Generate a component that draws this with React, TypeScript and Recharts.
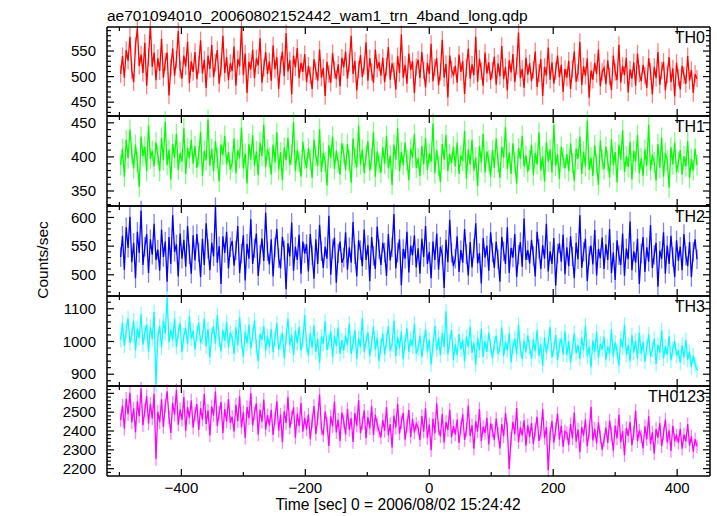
import React from 'react';
import { LineChart, Line, XAxis, YAxis, ErrorBar } from 'recharts';

// ---- data (3-s bins starting at t = -498 s) ----
const BIN_START = -498;
const BIN_SIZE = 3;

const TH0 = [
  505, 540, 498, 552, 531, 578, 512, 489, 560, 595, 521, 543, 507, 566, 482, 538, 601, 519, 547, 493,
  536, 511, 574, 498, 529, 547, 463, 518, 555, 502, 533, 589, 514, 496, 541, 520, 568, 487, 530, 509,
  548, 495, 523, 571, 506, 533, 478, 541, 515, 562, 499, 527, 552, 486, 519, 580, 507, 538, 493, 526,
  511, 559, 482, 534, 520, 597, 503, 545, 468, 529, 514, 553, 497, 536, 522, 575, 488, 517, 548, 505,
  530, 492, 561, 514, 538, 476, 523, 549, 501, 585, 510, 532, 465, 541, 518, 556, 497, 527, 509, 544,
  489, 521, 503, 476, 534, 511, 492, 553, 498, 517, 462, 529, 505, 488, 546, 513, 495, 524, 481, 537,
  518, 549, 496, 527, 580, 505, 531, 473, 514, 542, 499, 521, 567, 492, 536, 509, 488, 553, 516, 528,
  502, 537, 489, 519, 558, 494, 526, 511, 475, 540, 507, 583, 498, 523, 486, 545, 513, 530, 468, 519,
  533, 497, 548, 512, 479, 527, 505, 564, 491, 518, 536, 483, 509, 572, 498, 525, 459, 541, 514, 502,
  521, 488, 543, 509, 530, 466, 517, 555, 496, 524, 503, 578, 490, 535, 511, 482, 547, 506, 528, 493,
  512, 539, 484, 526, 501, 560, 495, 519, 473, 532, 508, 544, 489, 521, 586, 497, 515, 478, 537, 504,
  526, 491, 513, 549, 480, 507, 534, 462, 519, 502, 557, 494, 528, 486, 511, 541, 499, 523, 470, 515,
  498, 531, 476, 515, 549, 490, 507, 568, 483, 520, 502, 536, 459, 512, 494, 527, 505, 553, 481, 509,
  517, 485, 532, 500, 474, 541, 509, 493, 562, 488, 521, 503, 537, 469, 514, 496, 528, 482, 545, 506,
  491, 523, 502, 478, 536, 510, 465, 519, 497, 548, 484, 512, 529, 473, 504, 538, 489, 516, 461, 527,
  498, 475, 521, 503, 486, 540, 492, 513, 468, 505, 496,
];

const TH1 = [
  388, 412, 371, 425, 398, 440, 405, 383, 418, 392, 356, 430, 401, 415, 379, 446, 397, 409, 386, 421,
  403, 379, 428, 395, 452, 388, 410, 367, 419, 399, 434, 381, 406, 393, 442, 375, 413, 398, 425, 390,
  416, 384, 401, 437, 372, 409, 395, 455, 387, 412, 379, 423, 398, 364, 418, 403, 431, 389, 407, 381,
  392, 427, 376, 410, 398, 443, 383, 405, 361, 419, 396, 432, 387, 408, 373, 421, 401, 447, 385, 411,
  399, 374, 418, 392, 436, 381, 407, 366, 414, 395, 428, 388, 403, 451, 379, 410, 393, 371, 422, 397,
  384, 413, 396, 369, 425, 401, 387, 441, 378, 406, 393, 358, 417, 398, 430, 382, 409, 392, 374, 420,
  405, 381, 419, 394, 362, 427, 398, 385, 446, 389, 411, 376, 402, 423, 380, 397, 436, 371, 408, 391,
  377, 414, 390, 431, 383, 402, 359, 418, 396, 442, 379, 407, 388, 421, 395, 366, 412, 399, 433, 384,
  398, 372, 416, 389, 428, 381, 405, 393, 449, 376, 410, 387, 363, 419, 396, 432, 379, 404, 391, 415,
  386, 421, 375, 402, 394, 438, 368, 411, 389, 425, 380, 399, 357, 416, 392, 434, 377, 408, 395, 371,
  410, 384, 427, 393, 369, 415, 399, 444, 382, 406, 375, 420, 391, 361, 413, 397, 431, 386, 402, 378,
  395, 418, 373, 406, 389, 436, 380, 401, 364, 422, 393, 411, 377, 447, 387, 404, 368, 415, 398, 383,
  404, 379, 420, 391, 365, 412, 397, 430, 375, 408, 386, 453, 381, 399, 372, 417, 390, 359, 424, 395,
  382, 415, 394, 370, 426, 388, 407, 363, 418, 396, 439, 378, 401, 385, 422, 367, 409, 393, 432, 376,
  398, 372, 411, 387, 447, 380, 403, 392, 365, 419, 384, 428, 371, 406, 395, 355, 414, 389, 421, 378,
  392, 410, 374, 401, 386, 423, 369, 397, 380, 412, 388,
];

const TH2 = [
  531, 568, 509, 583, 547, 601, 522, 556, 494, 575, 538, 612, 517, 549, 571, 503, 562, 535, 589, 526,
  544, 507, 579, 531, 558, 488, 566, 519, 604, 540, 553, 497, 572, 528, 561, 514, 585, 536, 502, 569,
  525, 571, 539, 496, 563, 517, 590, 545, 508, 556, 532, 618, 521, 550, 484, 567, 538, 575, 511, 548,
  559, 516, 543, 585, 503, 537, 569, 490, 554, 528, 597, 519, 546, 572, 498, 535, 563, 524, 608, 541,
  518, 562, 497, 548, 580, 529, 511, 566, 543, 475, 555, 532, 591, 507, 549, 526, 570, 502, 558, 537,
  553, 506, 571, 534, 493, 562, 519, 587, 541, 512, 549, 528, 603, 500, 545, 565, 486, 537, 558, 521,
  530, 574, 509, 548, 521, 592, 536, 497, 560, 543, 515, 579, 526, 552, 489, 566, 533, 510, 584, 545,
  517, 556, 539, 498, 571, 525, 548, 606, 511, 539, 562, 482, 545, 528, 575, 504, 551, 534, 569, 513,
  546, 502, 563, 531, 585, 519, 540, 494, 558, 526, 572, 509, 549, 535, 477, 561, 522, 596, 538, 515,
  528, 567, 505, 543, 521, 580, 536, 499, 557, 513, 546, 590, 520, 538, 485, 564, 530, 551, 507, 574,
  539, 512, 558, 527, 488, 566, 541, 519, 583, 503, 547, 530, 571, 496, 535, 557, 514, 598, 526, 543,
  520, 561, 533, 497, 575, 545, 510, 552, 528, 589, 506, 541, 519, 564, 481, 537, 555, 523, 570, 501,
  548, 515, 567, 532, 494, 556, 527, 604, 512, 540, 563, 489, 533, 551, 518, 578, 499, 545, 529, 565,
  510, 553, 526, 580, 503, 539, 491, 560, 534, 517, 572, 498, 546, 527, 593, 508, 541, 521, 563, 484,
  537, 566, 505, 548, 523, 587, 512, 535, 556, 479, 542, 528, 574, 502, 551, 519, 568, 531, 496, 560,
  524, 549, 508, 571, 533, 515, 557, 496, 540, 562, 527,
];

const TH3 = [
  1005, 1058, 987, 1032, 1071, 996, 1019, 1064, 972, 1040, 1011, 1083, 990, 1027, 1052, 968, 1045, 1008, 1090, 869,
  1012, 1047, 981, 1063, 1025, 1134, 998, 1036, 1004, 1071, 983, 1029, 1055, 967, 1018, 1042, 991, 1077, 1009, 1033,
  976, 1024, 1058, 995, 1013, 1069, 985, 1038, 951, 1020, 1046, 993, 1081, 1007, 970, 1035, 1002, 1060, 982, 1027,
  1011, 962, 1043, 989, 1074, 1001, 953, 1030, 994, 1052, 978, 1019, 1064, 986, 940, 1022, 1005, 1047, 971, 1016,
  983, 1038, 967, 1009, 1056, 975, 998, 1027, 949, 1012, 1069, 988, 1021, 958, 1034, 995, 1045, 972, 1003, 1080,
  990, 957, 1026, 981, 1049, 968, 1007, 935, 1015, 993, 1062, 974, 1000, 1031, 952, 1018, 985, 1043, 962, 1004,
  971, 1019, 988, 1055, 962, 996, 1034, 947, 1010, 983, 1072, 969, 1001, 1028, 955, 993, 1046, 975, 1012, 940,
  986, 1024, 960, 1003, 1047, 972, 991, 1063, 954, 1015, 979, 1030, 946, 997, 1040, 968, 1008, 985, 1054, 963,
  979, 1018, 952, 996, 1037, 969, 1005, 930, 988, 1048, 974, 1011, 958, 1026, 983, 1092, 961, 999, 1035, 944,
  991, 958, 1023, 976, 1004, 940, 1015, 982, 1046, 965, 997, 929, 1010, 973, 1039, 953, 1001, 968, 1027, 985,
  949, 992, 1017, 962, 981, 1043, 955, 998, 973, 1025, 937, 984, 1008, 961, 1051, 979, 946, 1002, 969, 1019,
  982, 947, 1006, 970, 1034, 956, 991, 925, 1013, 965, 998, 1044, 952, 977, 1020, 943, 988, 1009, 960, 1031,
  958, 1001, 936, 979, 1025, 964, 990, 947, 1012, 973, 1049, 955, 984, 921, 1003, 967, 1030, 950, 993, 976,
  1014, 944, 985, 962, 1037, 953, 997, 970, 926, 1008, 981, 1052, 959, 990, 940, 1019, 966, 1003, 948, 1027,
  962, 999, 938, 981, 1021, 954, 975, 1008, 931, 990, 966, 1034, 948, 985, 959, 1016, 942, 977, 1001, 956,
  973, 935, 989, 951, 1004, 944, 968, 922, 957, 930, 912,
];

const TH0123 = [
  2458, 2535, 2412, 2571, 2489, 2603, 2446, 2520, 2394, 2557, 2478, 2625, 2431, 2509, 2586, 2440, 2544, 2467, 2598, 2252,
  2502, 2447, 2568, 2421, 2534, 2611, 2473, 2390, 2549, 2486, 2617, 2433, 2515, 2459, 2580, 2402, 2527, 2470, 2562, 2418,
  2491, 2543, 2405, 2522, 2460, 2596, 2437, 2508, 2376, 2531, 2482, 2609, 2426, 2497, 2554, 2389, 2516, 2451, 2570, 2443,
  2475, 2398, 2539, 2452, 2584, 2419, 2501, 2363, 2527, 2468, 2601, 2430, 2493, 2547, 2381, 2512, 2449, 2566, 2407, 2484,
  2430, 2512, 2379, 2466, 2558, 2402, 2487, 2341, 2505, 2443, 2579, 2418, 2473, 2526, 2365, 2491, 2427, 2549, 2396, 2470,
  2409, 2487, 2356, 2451, 2532, 2384, 2466, 2594, 2412, 2378, 2503, 2439, 2321, 2478, 2425, 2556, 2393, 2460, 2347, 2498,
  2452, 2381, 2517, 2406, 2468, 2342, 2495, 2429, 2563, 2389, 2441, 2508, 2362, 2474, 2415, 2532, 2378, 2486, 2433, 2399,
  2366, 2458, 2401, 2527, 2377, 2436, 2312, 2482, 2419, 2545, 2386, 2447, 2495, 2354, 2428, 2511, 2369, 2463, 2392, 2438,
  2417, 2352, 2479, 2396, 2521, 2363, 2434, 2298, 2465, 2388, 2546, 2411, 2372, 2490, 2339, 2448, 2405, 2513, 2367, 2426,
  2382, 2461, 2337, 2419, 2488, 2353, 2407, 2535, 2374, 2430, 2306, 2452, 2398, 2517, 2346, 2421, 2390, 2470, 2328, 2441,
  2403, 2351, 2466, 2385, 2308, 2437, 2372, 2495, 2411, 2199, 2359, 2448, 2383, 2522, 2341, 2419, 2376, 2457, 2322, 2430,
  2368, 2442, 2331, 2405, 2476, 2347, 2391, 2515, 2362, 2420, 2192, 2384, 2453, 2339, 2409, 2493, 2354, 2427, 2316, 2398,
  2389, 2326, 2437, 2361, 2498, 2343, 2408, 2287, 2421, 2375, 2462, 2318, 2394, 2529, 2350, 2412, 2334, 2446, 2369, 2301,
  2352, 2418, 2337, 2455, 2383, 2296, 2429, 2360, 2486, 2341, 2399, 2272, 2416, 2374, 2447, 2325, 2390, 2508, 2346, 2402,
  2371, 2308, 2425, 2356, 2478, 2332, 2393, 2281, 2410, 2365, 2442, 2319, 2387, 2461, 2339, 2404, 2294, 2428, 2352, 2376,
  2338, 2412, 2306, 2381, 2345, 2437, 2323, 2372, 2290, 2356, 2318,
];

// 1-sigma errors per band (counts/sec)
const ERRORS = [17, 15, 17, 23, 36];
const SERIES = [TH0, TH1, TH2, TH3, TH0123];
const SERIES_NAMES = ['TH0', 'TH1', 'TH2', 'TH3', 'TH0123'];
const COLORS = ['#ff0000', '#00ff00', '#0000ff', '#00ffff', '#ff00ff'];

const X_DOMAIN = [-520, 453];
const X_MAJOR = [-400, -200, 0, 200, 400];
const X_MINOR = [-500, -300, -100, 100, 300];

const Y_DOMAINS = [[423, 597], [328, 460], [463, 620], [864, 1139], [2161, 2639]];
const Y_MAJOR = [
  [450, 500, 550],
  [350, 400, 450],
  [500, 550, 600],
  [900, 1000, 1100],
  [2200, 2300, 2400, 2500, 2600],
];
const Y_MINOR_STEP = [10, 10, 10, 20, 20];

const TITLE = 'ae701094010_20060802152442_wam1_trn_4band_long.qdp';
const X_LABEL = 'Time [sec] 0 = 2006/08/02 15:24:42';
const Y_LABEL = 'Counts/sec';

// ---- layout ----
const W = 717;
const H = 516;
const PLOT_LEFT = 107;
const PLOT_RIGHT = 710;
const EDGES = [27, 116, 206, 296, 386, 476];
const FONT = '"Liberation Sans", Arial, Helvetica, sans-serif';
const AXIS_COLOR = '#000';
const MAJOR_LEN = 7;
const MINOR_LEN = 4;

function minorTicks(domain: number[], step: number, majors: number[]) {
  const out: number[] = [];
  const start = Math.ceil(domain[0] / step) * step;
  for (let v = start; v <= domain[1]; v += step) {
    if (!majors.includes(v)) out.push(v);
  }
  return out;
}

function fmt(v: number) {
  return v < 0 ? '\u2212' + Math.abs(v) : String(v);
}

// side: 'left' | 'right' | 'top' | 'bottom'
function makeTick(side: string, majors: number[], showLabels: boolean) {
  return (props: any) => {
    const { x, y, payload } = props;
    const v = payload.value;
    const isMajor = majors.includes(v);
    const len = isMajor ? MAJOR_LEN : MINOR_LEN;
    let line: any;
    if (side === 'left') line = { x1: x, x2: x + len, y1: y, y2: y };
    else if (side === 'right') line = { x1: x, x2: x - len, y1: y, y2: y };
    else if (side === 'top') line = { x1: x, x2: x, y1: y, y2: y + len };
    else line = { x1: x, x2: x, y1: y, y2: y - len };
    let label = null;
    if (showLabels && isMajor) {
      if (side === 'left') {
        label = (
          <text x={x - 11} y={y} dy="0.35em" textAnchor="end" fontSize={15} fontFamily={FONT} fill="#000">
            {fmt(v)}
          </text>
        );
      } else if (side === 'bottom') {
        label = (
          <text x={x} y={y + 17} textAnchor="middle" fontSize={15} fontFamily={FONT} fill="#000">
            {fmt(v)}
          </text>
        );
      }
    }
    return (
      <g>
        <line {...line} stroke={AXIS_COLOR} strokeWidth={1.2} />
        {label}
      </g>
    );
  };
}

function Panel({ idx }: { idx: number }) {
  const top = EDGES[idx];
  const bottom = EDGES[idx + 1];
  const isLast = idx === SERIES.length - 1;
  const padTop = 12;
  const padBottom = isLast ? 40 : 12;
  const height = bottom - top + padTop + padBottom;
  const values = SERIES[idx];
  const err = ERRORS[idx];
  const data = values.map((v, i) => ({ t: BIN_START + i * BIN_SIZE, v, e: err }));
  const yDomain = Y_DOMAINS[idx];
  const yMajor = Y_MAJOR[idx];
  const yTicks = [...yMajor, ...minorTicks(yDomain, Y_MINOR_STEP[idx], yMajor)].sort((a, b) => a - b);
  const xTicks = [...X_MAJOR, ...X_MINOR].sort((a, b) => a - b);
  const color = COLORS[idx];
  const common = {
    type: 'number' as const,
    allowDataOverflow: true,
    interval: 0 as const,
    tickSize: 0,
    tickMargin: 0,
    tickLine: false,
    axisLine: { stroke: AXIS_COLOR, strokeWidth: 1.5 },
  };
  return (
    <div style={{ position: 'absolute', left: 0, top: top - padTop, width: W, height }}>
      <LineChart
        width={W}
        height={height}
        data={data}
        margin={{ top: padTop - 1, bottom: padBottom - 1, left: PLOT_LEFT - 1, right: W - PLOT_RIGHT - 1 }}
      >
        <XAxis
          xAxisId="main"
          dataKey="t"
          {...common}
          domain={X_DOMAIN}
          ticks={xTicks}
          orientation="bottom"
          height={1}
          tick={makeTick('bottom', X_MAJOR, isLast)}
        />
        <XAxis
          xAxisId="top"
          dataKey="t"
          {...common}
          domain={X_DOMAIN}
          ticks={xTicks}
          orientation="top"
          height={1}
          tick={makeTick('top', X_MAJOR, false)}
        />
        <YAxis
          yAxisId="main"
          {...common}
          domain={yDomain}
          ticks={yTicks}
          orientation="left"
          width={1}
          tick={makeTick('left', yMajor, true)}
        />
        <YAxis
          yAxisId="right"
          {...common}
          domain={yDomain}
          ticks={yTicks}
          orientation="right"
          width={1}
          tick={makeTick('right', yMajor, false)}
        />
        <Line
          xAxisId="main"
          yAxisId="main"
          dataKey="v"
          type="linear"
          stroke={color}
          strokeWidth={1.3}
          dot={false}
          activeDot={false}
          isAnimationActive={false}
        >
          <ErrorBar dataKey="e" width={0} stroke={color} strokeOpacity={0.5} strokeWidth={1.3} direction="y" />
        </Line>
      </LineChart>
    </div>
  );
}

export default function App() {
  return (
    <div style={{ position: 'absolute', left: 0, top: 0, width: W, height: H, background: '#fff', fontFamily: FONT }}>
      {SERIES.map((_, i) => (
        <Panel key={i} idx={i} />
      ))}
      <svg width={W} height={H} style={{ position: 'absolute', left: 0, top: 0, pointerEvents: 'none' }}>
        <text x={PLOT_LEFT} y={21} fontSize={15.5} fontFamily={FONT} fill="#000">
          {TITLE}
        </text>
        {SERIES_NAMES.map((n, i) => (
          <text key={n} x={705} y={EDGES[i] + 15.5} textAnchor="end" fontSize={16} fontFamily={FONT} fill="#000">
            {n}
          </text>
        ))}
        <text
          x={42}
          y={260}
          transform="rotate(-90 42 260)"
          textAnchor="middle"
          dominantBaseline="central"
          fontSize={15.5}
          fontFamily={FONT}
          fill="#000"
        >
          {Y_LABEL}
        </text>
        <text x={398} y={510} textAnchor="middle" fontSize={15.6} fontFamily={FONT} fill="#000">
          {X_LABEL}
        </text>
      </svg>
    </div>
  );
}
